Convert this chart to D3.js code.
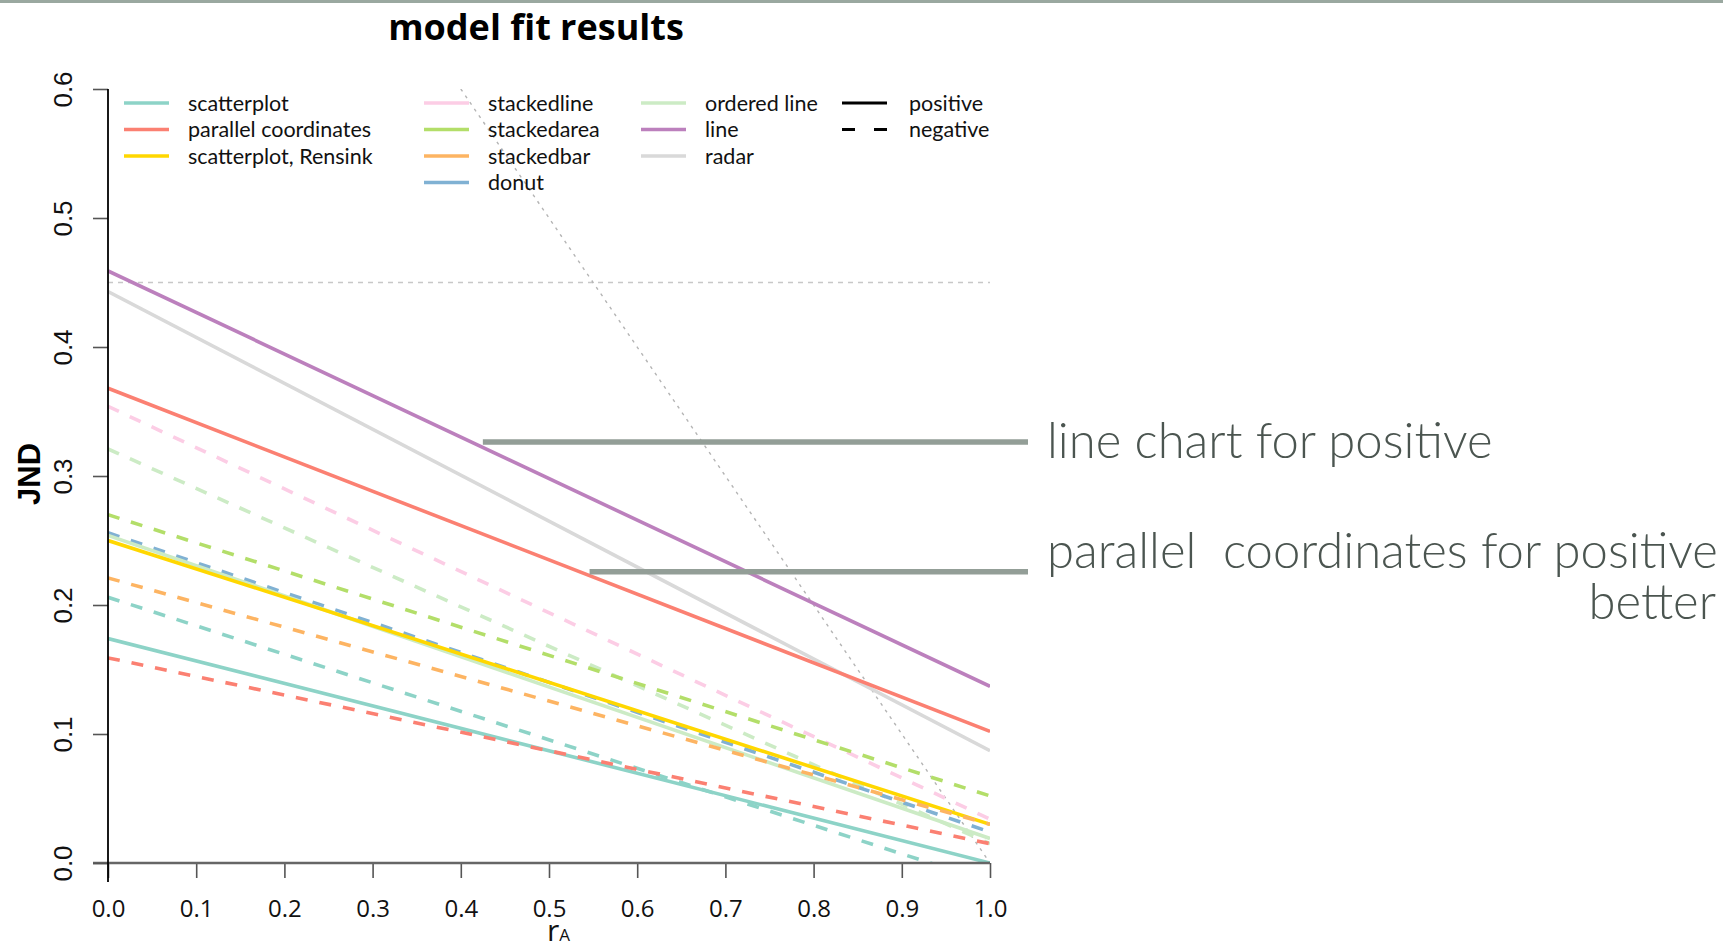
<!DOCTYPE html>
<html>
   <head>
      <script src="https://d3js.org/d3.v7.min.js"></script>
   </head>
   <style>
      body { margin: 0; background: #fff; }
   </style>
   <body>
      <script>
         // chart types, in legend order, and their colours
         const chartTypes = ['scatterplot', 'parallel coordinates', 'scatterplot, Rensink',
                             'stackedline', 'stackedarea', 'stackedbar', 'donut',
                             'ordered line', 'line', 'radar'];
         const typeColors = ['#8dd3c7', '#fb8072', '#ffd700',
                             '#fccde5', '#b3de69', '#fdb462', '#80b1d3',
                             '#ccebc5', '#bc80bd', '#d9d9d9'];
         const legendColumns = [[0, 1, 2], [3, 4, 5, 6], [7, 8, 9]];

         // fitted lines: JND at r_A = 0 and r_A = 1
         const rA = [0, 1];
         const fitType = ['line', 'radar', 'parallel coordinates', 'stackedline', 'ordered line',
                          'stackedarea', 'donut', 'ordered line', 'scatterplot, Rensink', 'stackedbar',
                          'scatterplot', 'scatterplot', 'parallel coordinates'];
         const fitSign = ['positive', 'positive', 'positive', 'negative', 'negative',
                          'negative', 'negative', 'positive', 'positive', 'negative',
                          'negative', 'positive', 'negative'];
         const jndAtZero = [0.459, 0.443, 0.368, 0.354, 0.321, 0.270, 0.256, 0.254, 0.250, 0.221, 0.206, 0.174, 0.159];
         const jndAtOne  = [0.137, 0.087, 0.102, 0.034, 0.015, 0.052, 0.024, 0.019, 0.030, 0.030, -0.015, 0.000, 0.015];

         // reference lines
         const refH = 0.45;                       // horizontal dashed
         const refDiagX = [0.4, 1.0];             // diagonal dotted JND = 1 - r_A
         const refDiagY = [0.6, 0.0];

         const xTicks = [0, 0.1, 0.2, 0.3, 0.4, 0.5, 0.6, 0.7, 0.8, 0.9, 1.0];
         const yTicks = [0, 0.1, 0.2, 0.3, 0.4, 0.5, 0.6];

         // annotations
         const annoText = ['line chart for positive', 'parallel  coordinates for positive'];
         const annoY = [0.3264, 0.2258];
         const annoX0 = [0.425, 0.546];

         const [W, H] = [1723, 945];
         let svg = d3.select('body').append('svg').attr('width', W).attr('height', H);

         let x = d3.scaleLinear().domain([0, 1]).range([108, 990]);
         let y = d3.scaleLinear().domain([0, 0.6]).range([863, 89]);
         let color = d3.scaleOrdinal().domain(chartTypes).range(typeColors);

         // top border
         svg.append('rect').attr('x', 0).attr('y', 0).attr('width', W).attr('height', 3).attr('fill', '#9aa8a0');

         svg.append('defs').append('clipPath').attr('id', 'plot-clip')
            .append('rect').attr('x', x(0)).attr('y', y(0.6)).attr('width', x(1) - x(0)).attr('height', y(0) - y(0.6));

         let plot = svg.append('g').attr('clip-path', 'url(#plot-clip)');

         // reference lines
         plot.append('line')
            .attr('x1', x(0)).attr('x2', x(1)).attr('y1', y(refH)).attr('y2', y(refH))
            .attr('stroke', '#c8c8c8').attr('stroke-width', 1.4).attr('stroke-dasharray', '5,5');
         plot.append('line')
            .attr('x1', x(refDiagX[0])).attr('x2', x(refDiagX[1])).attr('y1', y(refDiagY[0])).attr('y2', y(refDiagY[1]))
            .attr('stroke', '#b4b4b4').attr('stroke-width', 1.4).attr('stroke-dasharray', '3,5');

         // fitted lines, drawn back to front
         let lineGen = d3.line().x(d => x(d[0])).y(d => y(d[1]));
         let fits = fitType.map((t, i) => ({ type: t, sign: fitSign[i], pts: rA.map((r, k) => [r, k === 0 ? jndAtZero[i] : jndAtOne[i]]) }));

         plot.selectAll('path.fit')
            .data(fits)
            .enter()
            .append('path')
               .attr('class', 'fit')
               .attr('d', d => lineGen(d.pts))
               .attr('fill', 'none')
               .attr('stroke', d => color(d.type))
               .attr('stroke-width', 3.6)
               .attr('stroke-dasharray', d => d.sign === 'negative' ? '12,12' : null);

         // axes
         let xAxis = svg.append('g').attr('transform', `translate(0,${y(0)})`)
            .call(d3.axisBottom(x).tickValues(xTicks).tickFormat(d3.format('.1f')).tickSize(15));
         xAxis.select('.domain').remove();
         xAxis.selectAll('line').attr('stroke', '#555').attr('stroke-width', 1.6);
         xAxis.selectAll('text').attr('y', 54).attr('dy', 0)
            .style('font-family', 'Open Sans').style('font-size', '24px').attr('fill', '#111');
         svg.append('line').attr('x1', 93).attr('x2', x(1)).attr('y1', y(0)).attr('y2', y(0))
            .attr('stroke', '#666').attr('stroke-width', 2.4);

         let yAxis = svg.append('g').attr('transform', `translate(${x(0)},0)`)
            .call(d3.axisLeft(y).tickValues(yTicks).tickFormat(d3.format('.1f')).tickSize(15));
         yAxis.select('.domain').remove();
         yAxis.selectAll('line').attr('stroke', '#555').attr('stroke-width', 1.6);
         yAxis.selectAll('text').attr('x', 0).attr('dy', 0)
            .attr('transform', 'translate(-36,0) rotate(-90)')
            .attr('text-anchor', 'middle')
            .style('font-family', 'Liberation Sans').style('font-size', '26px').attr('fill', '#111');
         svg.append('line').attr('x1', x(0)).attr('x2', x(0)).attr('y1', y(0.6)).attr('y2', 882)
            .attr('stroke', '#000').attr('stroke-width', 1.8);

         // axis titles
         svg.append('text').attr('transform', 'translate(40,474) rotate(-90)')
            .attr('text-anchor', 'middle')
            .style('font-family', 'Liberation Sans').style('font-weight', 'bold').style('font-size', '31px')
            .text('JND');
         let xt = svg.append('text').attr('x', 547).attr('y', 941)
            .style('font-family', 'Open Sans').attr('fill', '#111');
         xt.append('tspan').style('font-size', '30px').text('r');
         xt.append('tspan').style('font-size', '17px').text('A');

         // title
         svg.append('text').attr('x', 536).attr('y', 40).attr('text-anchor', 'middle')
            .style('font-family', 'Open Sans').style('font-weight', 'bold').style('font-size', '36px')
            .text('model fit results');

         // legend
         let legX = [124, 424, 641];
         let legY0 = 103, legDy = 26.5;
         let legend = svg.append('g').style('font-family', 'Lato').style('font-size', '21.5px');
         legendColumns.forEach((col, c) => {
            col.forEach((idx, r) => {
               let ly = legY0 + r * legDy;
               legend.append('line').attr('x1', legX[c]).attr('x2', legX[c] + 45).attr('y1', ly).attr('y2', ly)
                  .attr('stroke', color(chartTypes[idx])).attr('stroke-width', 3.4);
               legend.append('text').attr('x', legX[c] + 64).attr('y', ly).attr('dy', '0.35em')
                  .attr('fill', '#111').text(chartTypes[idx]);
            });
         });
         ['positive', 'negative'].forEach((s, r) => {
            let ly = legY0 + r * legDy;
            legend.append('line').attr('x1', 842).attr('x2', 887).attr('y1', ly).attr('y2', ly)
               .attr('stroke', '#000').attr('stroke-width', 3.2)
               .attr('stroke-dasharray', s === 'negative' ? '13,19' : null);
            legend.append('text').attr('x', 909).attr('y', ly).attr('dy', '0.35em')
               .attr('fill', '#111').text(s);
         });

         // annotation bars and text
         annoText.forEach((t, i) => {
            svg.append('line').attr('x1', x(annoX0[i])).attr('x2', 1028)
               .attr('y1', y(annoY[i])).attr('y2', y(annoY[i]))
               .attr('stroke', '#939e97').attr('stroke-width', 5.5);
         });
         let annoStyle = sel => sel.style('font-family', 'Lato').style('font-weight', 300)
            .style('font-size', '49px').attr('fill', '#4b5550').style('white-space', 'pre');
         svg.append('text').attr('x', 1047).attr('y', 458).call(annoStyle).text(annoText[0]);
         svg.append('text').attr('x', 1047).attr('y', 568).call(annoStyle).text(annoText[1]);
         svg.append('text').attr('x', 1716).attr('y', 619).attr('text-anchor', 'end').call(annoStyle).text('better');
      </script>
   </body>
</html>
